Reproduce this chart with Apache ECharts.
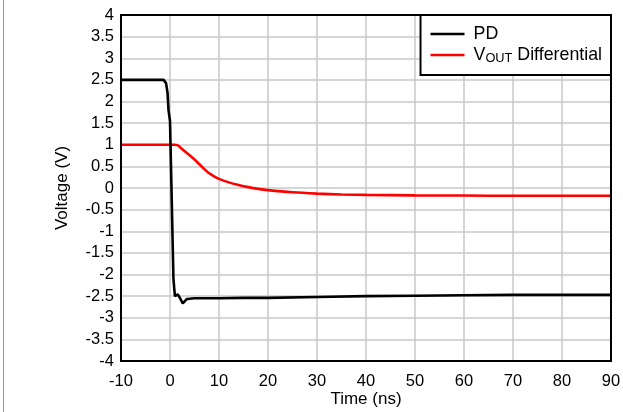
<!DOCTYPE html>
<html>
<head>
<meta charset="utf-8">
<script src="https://cdn.jsdelivr.net/npm/echarts@6/dist/echarts.min.js"></script>
<style>
html,body{margin:0;padding:0;background:#fff;}
#c{width:623px;height:412px;}
</style>
</head>
<body>
<div id="c"></div>
<script>
// Time (ns) and voltage (V)
var pdTime = [-10, -5, -2, -1.3, -1.0, -0.8, -0.5, -0.3, 0, 0.3, 0.7, 1.0, 1.3, 1.6, 2.0, 2.3, 2.6, 3.0, 3.4, 4, 5, 7, 10, 15, 20, 30, 40, 50, 60, 70, 80, 90];
var pdVolt = [2.5, 2.5, 2.5, 2.5, 2.48, 2.42, 2.2, 1.8, 1.55, 0.0, -2.1, -2.5, -2.52, -2.46, -2.5, -2.6, -2.67, -2.62, -2.57, -2.56, -2.55, -2.55, -2.55, -2.54, -2.54, -2.52, -2.5, -2.49, -2.48, -2.47, -2.47, -2.47];

var voutTime = [-10, -5, 0, 1, 1.5, 2, 3, 4, 5, 6, 7, 8, 9, 10, 12, 14, 16, 18, 20, 25, 30, 35, 40, 50, 60, 70, 80, 90];
var voutVolt = [1.0, 1.0, 1.0, 1.0, 0.99, 0.95, 0.85, 0.76, 0.66, 0.55, 0.44, 0.34, 0.27, 0.21, 0.13, 0.07, 0.02, -0.02, -0.05, -0.1, -0.13, -0.15, -0.16, -0.17, -0.175, -0.18, -0.18, -0.18];

var seriesNames = ['PD', 'VOUT Differential'];
var xTicks = {min: -10, max: 90, interval: 10};
var yTicks = {min: -4, max: 4, interval: 0.5};

function zip(a, b) { return a.map(function (v, i) { return [v, b[i]]; }); }

var chart = echarts.init(document.getElementById('c'), null, {renderer: 'canvas'});
var font = 'Liberation Sans, Arial, sans-serif';
var tickFs = 16.5, nameFs = 17, legFs = 17.8;
chart.setOption({
  animation: false,
  backgroundColor: '#fff',
  grid: {left: 121, top: 15, right: 12, bottom: 51, containLabel: false, outerBoundsMode: 'none',
         show: true, borderColor: '#000', borderWidth: 2, z: 5},
  xAxis: {
    type: 'value', min: xTicks.min, max: xTicks.max, interval: xTicks.interval,
    name: 'Time (ns)', nameLocation: 'middle', nameGap: 30, nameMoveOverlap: false,
    nameTextStyle: {fontFamily: font, fontSize: nameFs, color: '#000'},
    axisLine: {show: false}, axisTick: {show: false},
    axisLabel: {fontFamily: font, fontSize: tickFs, color: '#000', margin: 12},
    splitLine: {lineStyle: {color: '#c8c8c8', width: 1.5}}
  },
  yAxis: {
    type: 'value', min: yTicks.min, max: yTicks.max, interval: yTicks.interval,
    name: 'Voltage (V)', nameLocation: 'middle', nameGap: 50, nameMoveOverlap: false,
    nameTextStyle: {fontFamily: font, fontSize: nameFs, color: '#000'},
    axisLine: {show: false}, axisTick: {show: false},
    axisLabel: {fontFamily: font, fontSize: tickFs, color: '#000', margin: 7},
    splitLine: {lineStyle: {color: '#c8c8c8', width: 1.5}}
  },
  legend: {
    right: 12, top: 15, orient: 'vertical',
    backgroundColor: '#fff', borderColor: '#000', borderWidth: 2, borderRadius: 0,
    padding: [10, 9, 10, 10], itemGap: 2,
    itemWidth: 34, itemHeight: 2.5, icon: 'rect',
    textStyle: {fontFamily: font, fontSize: legFs, color: '#000',
      rich: {
        a: {fontFamily: font, fontSize: legFs, color: '#000', padding: [0, 0, 0, 4], lineHeight: 20},
        n: {fontFamily: font, fontSize: legFs, color: '#000', lineHeight: 20},
        s: {fontFamily: font, fontSize: 12.8, color: '#000', lineHeight: 20, verticalAlign: 'bottom', padding: [7, 0, 0, 0]}
      }},
    formatter: function (name) {
      if (name === 'VOUT Differential') return '{a|V}{s|OUT}{n| Differential}';
      return '{a|' + name + '}';
    },
    data: seriesNames,
    z: 10
  },
  series: [
    {name: seriesNames[0], type: 'line', data: zip(pdTime, pdVolt), showSymbol: false, symbol: 'none',
     lineStyle: {color: '#000', width: 2.6}, itemStyle: {color: '#000'}, z: 3},
    {name: seriesNames[1], type: 'line', data: zip(voutTime, voutVolt), showSymbol: false, symbol: 'none', smooth: 0.3,
     lineStyle: {color: '#ff0000', width: 2.6}, itemStyle: {color: '#ff0000'}, z: 2}
  ],
  graphic: [{type: 'line', shape: {x1: 3.5, y1: 0, x2: 3.5, y2: 412}, style: {stroke: '#999', lineWidth: 1}}]
});
</script>
</body>
</html>
